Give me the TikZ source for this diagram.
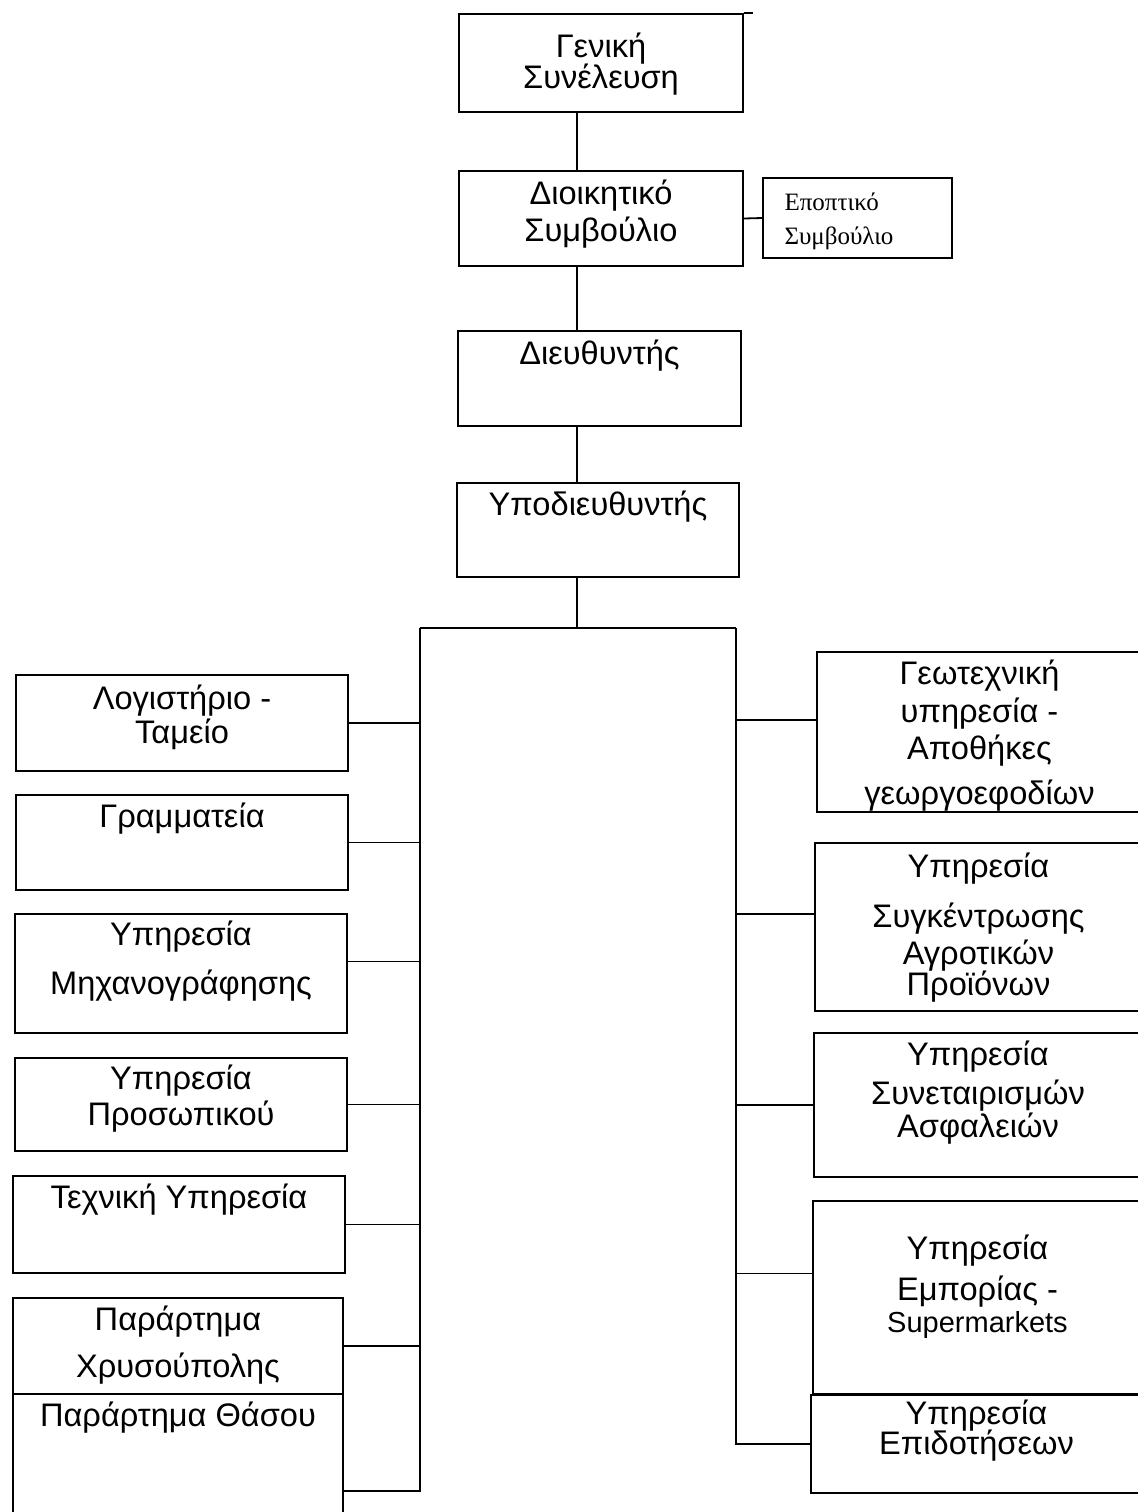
\documentclass[tikz,border=0pt]{standalone}
\usepackage{fontspec}
\setmainfont{Liberation Sans}
\newfontfamily\serifgr{Liberation Serif}
\usetikzlibrary{positioning}

\tikzset{
  box/.style={draw, rectangle, inner sep=0pt, line width=0.9pt},
  lbl/.style={inner sep=0pt, align=center, font=\fontsize{16.3}{17}\selectfont},
  wire/.style={line width=0.9pt},
}

\begin{document}
\begin{tikzpicture}[x=0.5pt, y=-0.5pt]
  \useasboundingbox (0,0) rectangle (1138,1512);

  %%%%% top of the chart %%%%%
  \node[box, minimum width=142pt, minimum height=49pt] (gs) at (601,63) {};
  \node[box, minimum width=142pt, minimum height=47.5pt] (ds) at (601,218.5) {};
  \node[box, minimum width=94.5pt, minimum height=40pt] (es) at (857.5,218) {};
  \node[box, minimum width=141.5pt, minimum height=47.5pt] (dir) at (599.5,378.5) {};
  \node[box, minimum width=141pt, minimum height=47pt] (sub) at (598,530) {};

  \node[lbl, below=9.5pt of gs.north] (gs-t) {Γενική\\[-1.5pt]Συνέλευση};
  \node[lbl, below=4.5pt of ds.north] (ds-t) {Διοικητικό\\[1.5pt]Συμβούλιο};
  \node[inner sep=0pt, align=left, font=\serifgr\fontsize{12.5}{14}\selectfont,
        below right=7.5pt and 11pt of es.north west] (es-t) {Εποπτικό\\[3pt]Συμβούλιο};
  \node[lbl, below=4.5pt of dir.north] (dir-t) {Διευθυντής};
  \node[lbl, below=4pt of sub.north] (sub-t) {Υποδιευθυντής};

  %%%%% left column %%%%%
  \node[box, minimum width=166pt, minimum height=48pt] (l1) at (182,723) {};
  \node[box, minimum width=166pt, minimum height=47.5pt] (l2) at (182,842.5) {};
  \node[box, minimum width=166pt, minimum height=59.5pt] (l3) at (181,973.5) {};
  \node[box, minimum width=166pt, minimum height=46.5pt] (l4) at (181,1104.5) {};
  \node[box, minimum width=166pt, minimum height=48.5pt] (l5) at (179,1224.5) {};
  \node[box, minimum width=165pt, minimum height=48pt] (l6) at (178,1346) {};
  \node[box, minimum width=165pt, minimum height=73pt] (l7) at (178,1467) {};

  \node[lbl, below=5pt of l1.north] (l1-t) {Λογιστήριο -\\Ταμείο};
  \node[lbl, below=4pt of l2.north] (l2-t) {Γραμματεία};
  \node[lbl, below=3.5pt of l3.north] (l3-t) {Υπηρεσία\\[7.5pt]Μηχανογράφησης};
  \node[lbl, below=3.5pt of l4.north] (l4-t) {Υπηρεσία\\[1pt]Προσωπικού};
  \node[lbl, below=4pt of l5.north] (l5-t) {Τεχνική Υπηρεσία};
  \node[lbl, below=4pt of l6.north] (l6-t) {Παράρτημα\\[6.5pt]Χρυσούπολης};
  \node[lbl, below=4pt of l7.north] (l7-t) {Παράρτημα Θάσου};

  %%%%% right column %%%%%
  \node[box, minimum width=162.5pt, minimum height=80pt] (r1) at (979.5,732) {};
  \node[box, minimum width=163.5pt, minimum height=84pt] (r2) at (978.5,927) {};
  \node[box, minimum width=164pt, minimum height=72pt] (r3) at (978,1105) {};
  \node[box, minimum width=164.5pt, minimum height=96.5pt] (r4) at (977.5,1297.5) {};
  \node[box, minimum width=165.5pt, minimum height=49pt] (r5) at (976.5,1444) {};

  \node[lbl, below=4pt of r1.north] (r1-t) {Γεωτεχνική\\[2pt]υπηρεσία -\\[1.5pt]Αποθήκες\\[5.5pt]γεωργοεφοδίων};
  \node[lbl, below=5pt of r2.north] (r2-t) {Υπηρεσία\\[8pt]Συγκέντρωσης\\[1.5pt]Αγροτικών\\[-1.5pt]Προϊόνων};
  \node[lbl, below=4pt of r3.north] (r3-t) {Υπηρεσία\\[2.5pt]Συνεταιρισμών\\[-0.5pt]Ασφαλειών};
  \node[lbl, below=17pt of r4.north] (r4-t) {Υπηρεσία\\[3.5pt]Εμπορίας -\\[-1pt]{\fontsize{14.5}{16}\selectfont Supermarkets}};
  \node[lbl, below=2.5pt of r5.north] (r5-t) {Υπηρεσία\\[-2pt]Επιδοτήσεων};

  %%%%% connectors %%%%%
  \coordinate (bus) at (577,628);
  \coordinate (busL) at (420,628);
  \coordinate (busR) at (736,628);

  \draw[wire] (gs.north east) -- ++(4.5pt,0);
  \draw[wire] (gs.south -| bus) -- (ds.north -| bus);
  \draw[wire] (ds.south -| bus) -- (dir.north -| bus);
  \draw[wire] (dir.south -| bus) -- (sub.north -| bus);
  \draw[wire] (sub.south -| bus) -- (bus);
  \draw[wire] (ds.east) -- (es.west);
  \draw[wire] (busL) -- (busR);

  \foreach \n/\dy in {l1/0, l2/0, l3/6, l4/0, l5/0, l6/0, l7/-12}
    \draw[wire] ([yshift=\dy pt]\n.east) -| (busL);
  \foreach \n/\dy in {r1/6, r2/6.5, r3/0, r4/12, r5/0}
    \draw[wire] ([yshift=\dy pt]\n.west) -| (busR);
\end{tikzpicture}
\end{document}
